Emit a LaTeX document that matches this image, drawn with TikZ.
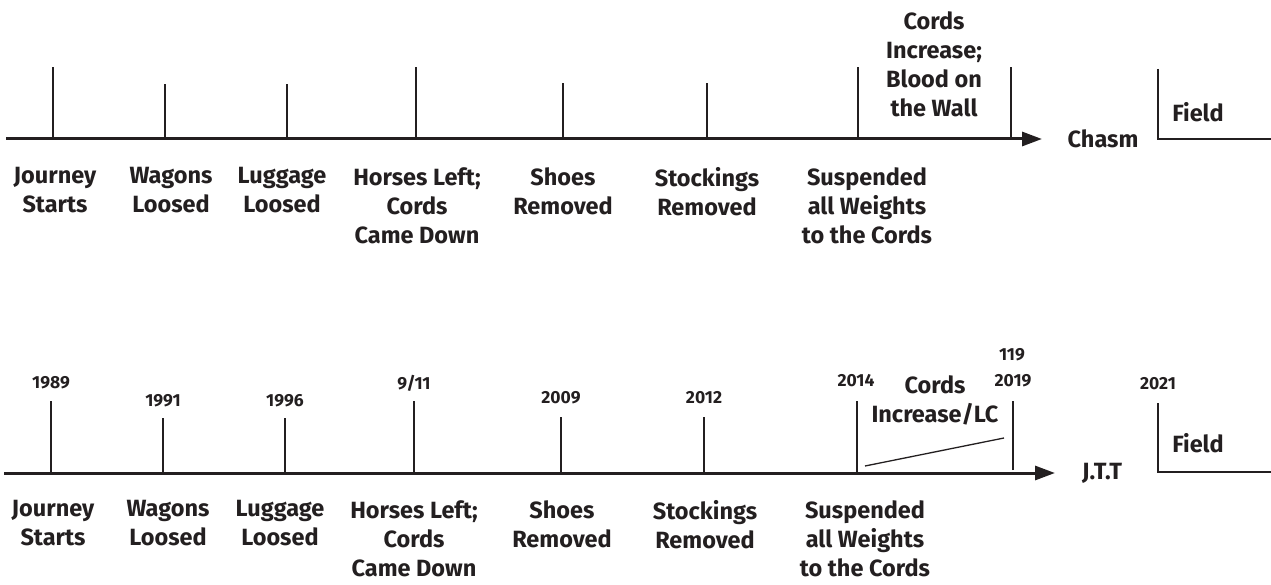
\documentclass[tikz,border=0pt]{standalone}
\usepackage{fontspec}
\setmainfont{Fira Sans}
\usetikzlibrary{arrows.meta}
\definecolor{ink}{HTML}{231F20}
\begin{document}
\begin{tikzpicture}[x=1pt,y=-1pt,
  lbl/.style={font=\bfseries\fontsize{23.5}{29}\selectfont, align=center, text=ink, inner sep=0pt, anchor=north},
  word/.style={font=\bfseries\fontsize{23.5}{29}\selectfont, text=ink, inner sep=0pt},
  yr/.style={font=\bfseries\fontsize{17.5}{20}\selectfont, text=ink, inner sep=0pt},
  axis/.style={line width=3pt, draw=ink, -{Triangle[length=20pt,width=14pt]}},
  tickline/.style={line width=1.3pt, draw=ink}]
\useasboundingbox (0,0) rectangle (1271,585);
% ---------- top timeline ----------
\coordinate (ta0) at (6,139);
\coordinate (ta1) at (1042,139);
\draw[axis] (ta0) -- (ta1);
\foreach \x/\t in {53/67,165/84,287/84,416/67,563/83,707/83,858/67}
  \draw[tickline] (\x,139) -- (\x,\t);
\draw[tickline] (1011,137) -- (1011,67);
\coordinate (tf0) at (1158,69);
\coordinate (tf1) at (1158,139);
\coordinate (tf2) at (1271,139);
\draw[tickline] (tf0) -- (tf1) -- (tf2);
\node[lbl] (t1) at (55,167) {Journey\\Starts};
\node[lbl] (t2) at (171,167) {Wagons\\Loosed};
\node[lbl] (t3) at (282,167) {Luggage\\Loosed};
\node[lbl] (t4) at (417,167) {Horses Left;\\Cords\\Came Down};
\node[lbl] (t5) at (563,167) {Shoes\\Removed};
\node[lbl] (t6) at (707,167) {Stockings\\Removed};
\node[lbl] (t7) at (867,167) {Suspended\\all Weights\\to the Cords};
\node[lbl] (t8) at (934,11) {Cords\\Increase;\\Blood on\\the Wall};
\node[word] (tchasm) at (1103,139) {Chasm};
\node[word] (tfield) at (1198,112) {Field};
% ---------- bottom timeline ----------
\coordinate (ba0) at (4,473);
\coordinate (ba1) at (1055,473);
\draw[axis] (ba0) -- (ba1);
\foreach \x/\t in {51/401,163/418,285/418,414/401,561/417,704/417,857/401}
  \draw[tickline] (\x,473) -- (\x,\t);
\draw[tickline] (1013,470) -- (1013,401);
\coordinate (bf0) at (1158,403);
\coordinate (bf1) at (1158,472);
\coordinate (bf2) at (1271,472);
\draw[tickline] (bf0) -- (bf1) -- (bf2);
\coordinate (s0) at (865,466);
\coordinate (s1) at (1004,438);
\draw[tickline] (s0) -- (s1);
\node[yr] (y1) at (51,383) {1989};
\node[yr] (y2) at (163,401) {1991};
\node[yr] (y3) at (285,401) {1996};
\node[yr] (y4) at (414,383) {9/11};
\node[yr] (y5) at (561,398) {2009};
\node[yr] (y6) at (704,398) {2012};
\node[yr] (y7) at (856,381) {2014};
\node[yr] (y8a) at (1012,355) {119};
\node[yr] (y8) at (1013,381) {2019};
\node[yr] (y9) at (1158,384) {2021};
\node[lbl] (bc) at (935,375) {Cords\\Increase/LC};
\node[lbl] (b1) at (53,500) {Journey\\Starts};
\node[lbl] (b2) at (168,500) {Wagons\\Loosed};
\node[lbl] (b3) at (280,500) {Luggage\\Loosed};
\node[lbl] (b4) at (414,500) {Horses Left;\\Cords\\Came Down};
\node[lbl] (b5) at (562,500) {Shoes\\Removed};
\node[lbl] (b6) at (705,500) {Stockings\\Removed};
\node[lbl] (b7) at (865,500) {Suspended\\all Weights\\to the Cords};
\node[word] (bjtt) at (1102,473) {J.T.T};
\node[word] (bfield) at (1198,443) {Field};
\end{tikzpicture}
\end{document}
